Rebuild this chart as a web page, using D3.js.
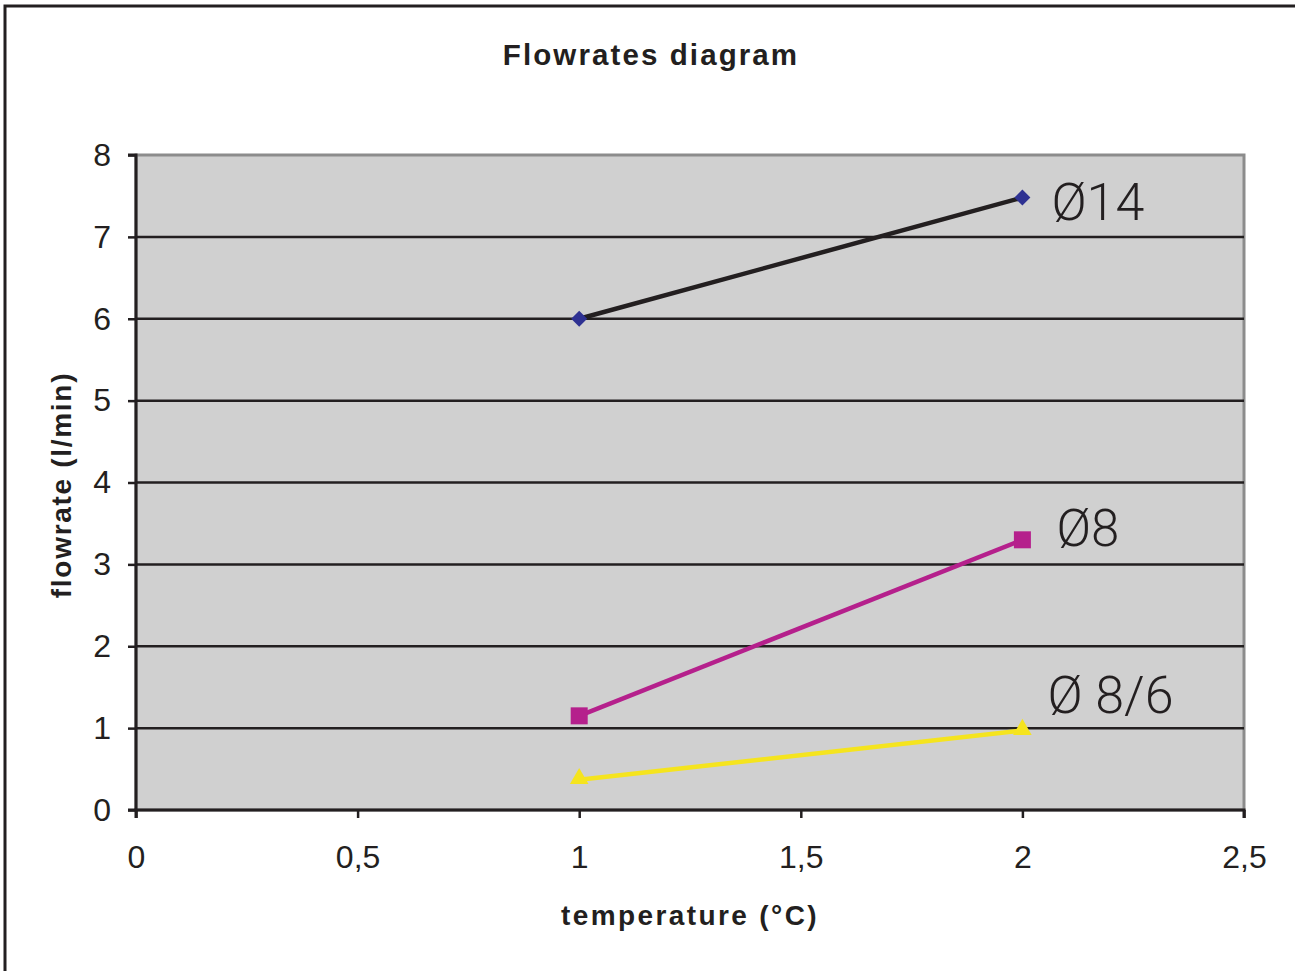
<!DOCTYPE html>
<html><head><meta charset="utf-8">
<script src="https://cdn.jsdelivr.net/npm/d3@7"></script>
<style>body{margin:0;background:#fff}svg{display:block}text{font-family:"Liberation Sans",Arial,sans-serif;fill:#231f20}</style>
</head><body>
<script>
const xTicks = [0, 0.5, 1, 1.5, 2, 2.5];
const yTicks = [0, 1, 2, 3, 4, 5, 6, 7, 8];
const temps = [1, 2];
const seriesNames = ["Ø14", "Ø8", "Ø 8/6"];
const d14 = [6.0, 7.48];
const d8 = [1.15, 3.3];
const d86 = [0.37, 0.97];
const colors = ["#231f20", "#b5208c", "#f5e41e"];
const markerColors = ["#2e3192", "#b5208c", "#f5e41e"];

const W = 1295, H = 971;
const svg = d3.select("body").append("svg").attr("width", W).attr("height", H);
// outer frame (left and top visible)
svg.append("rect").attr("x", 5).attr("y", 6).attr("width", W + 20).attr("height", H + 20)
  .attr("fill", "none").attr("stroke", "#231f20").attr("stroke-width", 3);

const L = 136, R = 1244, T = 155, B = 810;
const x = d3.scaleLinear().domain([0, 2.5]).range([L, R]);
const y = d3.scaleLinear().domain([0, 8]).range([B, T]);

svg.append("rect").attr("x", L).attr("y", T).attr("width", R - L).attr("height", B - T)
  .attr("fill", "#d0d0d0").attr("stroke", "#8c8c8c").attr("stroke-width", 3);

// gridlines
svg.append("g").selectAll("line").data(yTicks.filter(d => d > 0 && d < 8)).join("line")
  .attr("x1", L).attr("x2", R).attr("y1", d => y(d)).attr("y2", d => y(d))
  .attr("stroke", "#231f20").attr("stroke-width", 2.5);

// axes
const yAxis = d3.axisLeft(y).tickValues(yTicks).tickSize(8).tickPadding(17).tickFormat(d => String(d));
const gy = svg.append("g").attr("transform", `translate(${L},0)`).call(yAxis);
const xAxis = d3.axisBottom(x).tickValues(xTicks).tickSize(8).tickPadding(27)
  .tickFormat(d => String(d).replace(".", ","));
const gx = svg.append("g").attr("transform", `translate(0,${B})`).call(xAxis);
[gy, gx].forEach(g => {
  g.attr("font-size", 32).attr("font-family", '"Liberation Sans",Arial,sans-serif');
  g.select(".domain").attr("stroke", "#231f20").attr("stroke-width", 3);
  g.selectAll(".tick line").attr("stroke", "#231f20").attr("stroke-width", 2.5);
  g.selectAll(".tick text").attr("fill", "#231f20");
});
gx.select(".domain").attr("d", `M${L},8V0H${R}V8`);
gy.select(".domain").attr("d", `M-8,${T}H0V${B}H-8`);

// series
const allData = [d14, d8, d86];
const line = d3.line().x((d, i) => x(temps[i])).y(d => y(d));
allData.forEach((vals, k) => {
  svg.append("path").datum(vals).attr("d", line).attr("fill", "none")
    .attr("stroke", colors[k]).attr("stroke-width", 4.5);
});
// markers
const g0 = svg.append("g");
d14.forEach((v, i) => g0.append("path").attr("d", d3.symbol(d3.symbolSquare, 128)())
  .attr("transform", `translate(${x(temps[i])},${y(v)}) rotate(45)`).attr("fill", markerColors[0]));
d8.forEach((v, i) => g0.append("rect").attr("x", x(temps[i]) - 8.5).attr("y", y(v) - 8.5)
  .attr("width", 17).attr("height", 17).attr("fill", markerColors[1]));
d86.forEach((v, i) => g0.append("path").attr("d", d3.symbol(d3.symbolTriangle, 150)())
  .attr("transform", `translate(${x(temps[i])},${y(v) - 1})`).attr("fill", markerColors[2]));

// series labels
const labelPos = [[2, d14[1]], [2, d8[1]], [2, d86[1]]];
const labelDx = [29, 34, 25];
const labelDy = [22, 6, -18];
const labelSize = [52, 51, 52];
seriesNames.forEach((n, k) => {
  svg.append("text").attr("x", x(labelPos[k][0]) + labelDx[k]).attr("y", y(labelPos[k][1]) + labelDy[k])
    .style("font-family", 'Roboto,"Liberation Sans",sans-serif')
    .attr("font-size", labelSize[k]).attr("font-weight", 300).text(n);
});

// titles
svg.append("text").attr("x", 651).attr("y", 65).attr("text-anchor", "middle")
  .attr("font-size", 29.5).attr("font-weight", "bold").attr("letter-spacing", 2.1).text("Flowrates diagram");
svg.append("text").attr("x", 690).attr("y", 925).attr("text-anchor", "middle")
  .attr("font-size", 28).attr("font-weight", "bold").attr("letter-spacing", 2.4).text("temperature (°C)");
svg.append("text").attr("transform", "translate(71,485) rotate(-90)").attr("text-anchor", "middle")
  .attr("font-size", 28).attr("font-weight", "bold").attr("letter-spacing", 1.7).text("flowrate (l/min)");
</script>
</body></html>
